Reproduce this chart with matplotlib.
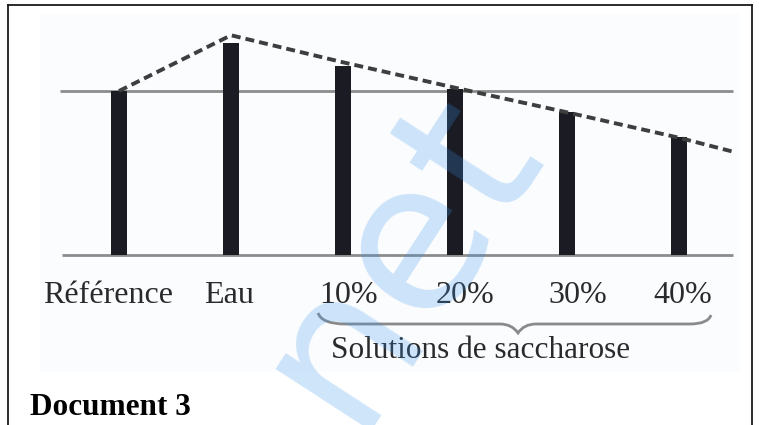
import numpy as np
import matplotlib
matplotlib.use("Agg")
import matplotlib.pyplot as plt
from matplotlib.path import Path
from matplotlib.patches import PathPatch, Rectangle
from matplotlib.lines import Line2D

# ---- data ----
categories = ["Référence", "Eau", "10%", "20%", "30%", "40%"]
bar_values = [100, 129, 115, 101, 87, 72]
trend_values = [100, 134, 117.5, 102, 87, 71.5, 63]
reference_level = 100
brace_label = "Solutions de saccharose"
doc_title = "Document 3"
watermark = "net"

# ---- layout (pixel mapping) ----
W, H = 759, 425
X0, DX = 119, 112          # pixel x of first bar, spacing
Y0, SY = 255, 1.64         # pixel y of baseline, px per unit


def X(px):
    return (px - X0) / DX


def Y(py):
    return (Y0 - py) / SY


fig = plt.figure(figsize=(W / 100, H / 100), dpi=100)
ax = fig.add_axes([0, 0, 1, 1])
ax.set_xlim(X(0), X(W))
ax.set_ylim(Y(H), Y(0))
ax.axis("off")

# faint scanned background
ax.add_patch(Rectangle((X(40), Y(372)), X(740) - X(40), Y(14) - Y(372),
                       color="#fafcfe", zorder=0, lw=0))

xpos = np.arange(len(categories))
ax.bar(xpos, bar_values, width=0.145, color="#1b1b24", zorder=3)

# horizontal lines
ax.hlines(reference_level, X(60), X(733), color="#8c8c8c", lw=2, zorder=2)
ax.hlines(0, X(62), X(733), color="#8c8c8c", lw=2, zorder=2)

# dashed trend
trend_x = list(xpos) + [X(733)]
ax.plot(trend_x, trend_values, color="#3e3e3e", lw=2.8,
        ls=(0, (2.3, 1.3)), zorder=4)

# category labels
label_px = [108, 229, 349, 465, 578, 683]
for lab, px in zip(categories, label_px):
    ax.text(X(px), Y(303), lab, ha="center", va="baseline",
            fontsize=23, family="Liberation Serif", color="#2a2a2a", zorder=6)

# brace
pts = [(318, 313), (322, 324), (345, 324), (500, 324), (512, 324), (518, 333),
       (524, 324), (536, 324), (690, 324), (708, 324), (711, 315)]
codes = [Path.MOVETO, Path.CURVE3, Path.CURVE3, Path.LINETO, Path.CURVE3, Path.CURVE3,
         Path.CURVE3, Path.CURVE3, Path.LINETO, Path.CURVE3, Path.CURVE3]
verts = [(X(a), Y(b)) for a, b in pts]
ax.add_patch(PathPatch(Path(verts, codes), fill=False, ec="#8a8a8a", lw=2, zorder=6))

ax.text(X(481), Y(358), brace_label, ha="center", va="baseline",
        fontsize=22.5, family="Liberation Serif", color="#2a2a2a", zorder=6)

ax.text(X(30), Y(415), doc_title, ha="left", va="baseline",
        fontsize=22.5, family="Liberation Serif", fontweight="bold", color="black", zorder=6)

# watermark
ax.text(X(353), Y(431), watermark, rotation=57, rotation_mode="anchor",
        ha="left", va="baseline", fontsize=150, family="DejaVu Sans",
        color="#3793eb", alpha=0.24, zorder=7, clip_on=True)

# frame
for (x1, y1, x2, y2) in [(8, 5, 752, 5), (8, 5, 8, H), (752, 5, 752, H)]:
    fig.add_artist(Line2D([x1 / W, x2 / W], [1 - y1 / H, 1 - y2 / H],
                          color="#1a1a1a", lw=1.3, transform=fig.transFigure))

fig.savefig("out.png", dpi=100)
